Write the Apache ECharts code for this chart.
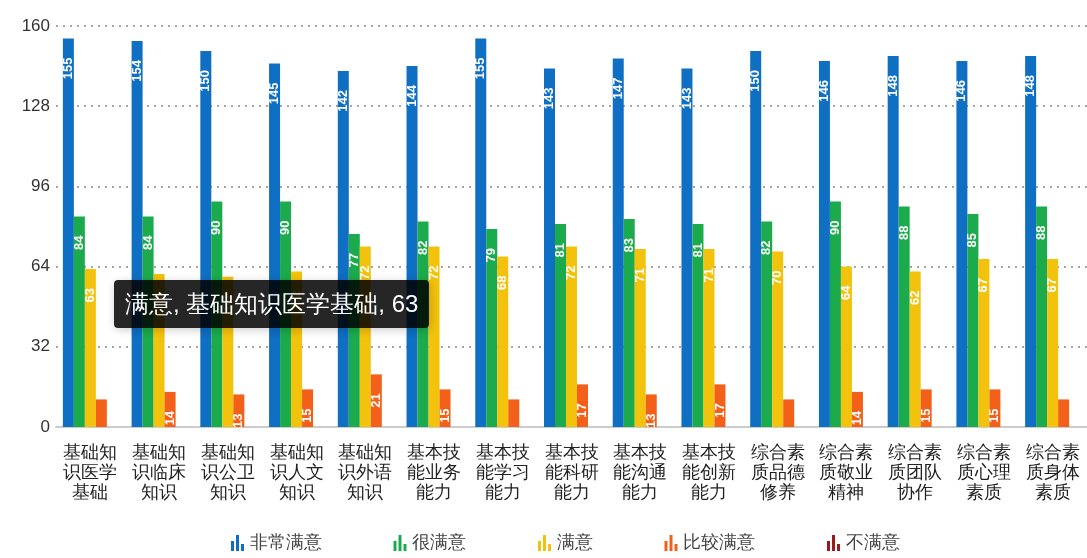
<!DOCTYPE html>
<html>
<head>
<meta charset="utf-8">
<script src="https://cdn.jsdelivr.net/npm/echarts@6/dist/echarts.min.js"></script>
<style>
html,body{margin:0;padding:0;background:#fff;}
#charts{width:1087px;height:558px;}
</style>
</head>
<body>
<div id="charts"></div>
<script>
// 评价项目
var categories = ['基础知识医学基础','基础知识临床知识','基础知识公卫知识','基础知识人文知识','基础知识外语知识',
	'基本技能业务能力','基本技能学习能力','基本技能科研能力','基本技能沟通能力','基本技能创新能力',
	'综合素质品德修养','综合素质敬业精神','综合素质团队协作','综合素质心理素质','综合素质身体素质'];
var levelNames = ['非常满意','很满意','满意','比较满意','不满意'];
var veryGood = [155,154,150,145,142,144,155,143,147,143,150,146,148,146,148];
var good = [84,84,90,90,77,82,79,81,83,81,82,90,88,85,88];
var ok = [63,61,60,62,72,72,68,72,71,71,70,64,62,67,67];
var fair = [11,14,13,15,21,15,11,17,13,17,11,14,15,15,11];
var bad = [0,0,0,0,0,0,0,0,0,0,0,0,0,0,0];
var yTicks = [0,32,64,96,128,160];
var colors = ['#0f6fc3','#1bab4c','#f3c20c','#f2601a','#9e1a1a'];

var barIcon = 'path://M0,6h3v10h-3z M5,0h3v16h-3z M10,9h3v7h-3z';

function wrapLabel(value) {
	var s = '';
	for (var i = 0; i < value.length; i += 3) {
		s += (i > 0 ? '\n' : '') + value.substr(i, 3);
	}
	return s;
}

function makeSeries(name, data) {
	return {
		name: name,
		type: 'bar',
		barWidth: 11,
		barGap: 0,
		data: data,
		label: {
			show: true,
			position: 'insideTop',
			distance: 19,
			rotate: 90,
			align: 'right',
			verticalAlign: 'middle',
			color: '#fff',
			fontSize: 13,
			fontWeight: 'bold',
			formatter: function(p) {
				return p.value >= 12 ? p.value : '';
			}
		}
	};
}

var myChart = echarts.init(document.getElementById('charts'));
var option = {
	color: colors,
	animation: false,
	grid: {
		left: 56,
		top: 26,
		width: 1035,
		bottom: 131
	},
	tooltip: {
		trigger: 'item',
		alwaysShowContent: true,
		formatter: '{a}, {b}, {c}',
		position: [114, 280],
		backgroundColor: 'rgba(0,0,0,0.85)',
		borderWidth: 0,
		padding: [6, 11],
		textStyle: { color: '#fff', fontSize: 24 }
	},
	legend: {
		left: 226,
		bottom: 1,
		itemGap: 72,
		itemWidth: 14,
		itemHeight: 16,
		icon: barIcon,
		textStyle: { fontSize: 18, color: '#444' },
		data: levelNames
	},
	xAxis: {
		type: 'category',
		data: categories,
		axisTick: { show: false },
		axisLine: { lineStyle: { color: '#cccccc', width: 2 } },
		axisLabel: {
			interval: 0,
			fontSize: 18,
			lineHeight: 20,
			color: '#222',
			margin: 16,
			formatter: wrapLabel
		}
	},
	yAxis: {
		type: 'value',
		min: 0,
		max: 160,
		interval: 32,
		axisLine: { show: false },
		axisTick: { show: false },
		axisLabel: { fontSize: 17, color: '#333', margin: 6 },
		splitLine: { lineStyle: { type: [2, 5], color: '#888', width: 1.5 } }
	},
	series: [
		makeSeries(levelNames[0], veryGood),
		makeSeries(levelNames[1], good),
		makeSeries(levelNames[2], ok),
		makeSeries(levelNames[3], fair),
		makeSeries(levelNames[4], bad)
	]
};
myChart.setOption(option);
setTimeout(function() {
	myChart.dispatchAction({ type: 'showTip', seriesIndex: 2, dataIndex: 0 });
}, 50);
</script>
</body>
</html>
